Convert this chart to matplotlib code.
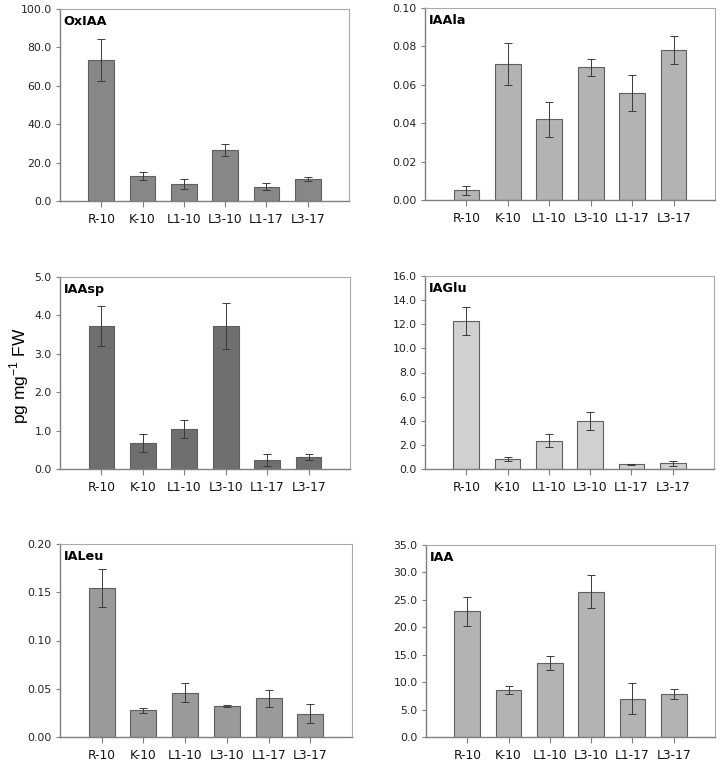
import matplotlib
matplotlib.use("Agg")
import matplotlib.pyplot as plt
from matplotlib.axes import Axes
from matplotlib.ticker import FormatStrFormatter, MultipleLocator

plt.rcParams["font.family"] = "DejaVu Sans"

LINES = ["R-10", "K-10", "L1-10", "L3-10", "L1-17", "L3-17"]

OXIAA = [73.4, 13.0, 8.9, 26.4, 7.5, 11.3]
OXIAA_ERR = [10.9, 2.2, 2.5, 3.1, 2.0, 1.1]

IAALA = [0.0050, 0.0707, 0.0420, 0.0691, 0.0556, 0.0780]
IAALA_ERR = [0.0022, 0.0110, 0.0090, 0.0043, 0.0093, 0.0072]

IAASP = [3.73, 0.68, 1.04, 3.72, 0.24, 0.31]
IAASP_ERR = [0.52, 0.24, 0.24, 0.59, 0.15, 0.08]

IAGLU = [12.24, 0.80, 2.35, 3.95, 0.39, 0.47]
IAGLU_ERR = [1.15, 0.17, 0.54, 0.75, 0.05, 0.18]

IALEU = [0.1542, 0.0277, 0.0461, 0.0326, 0.0399, 0.0243]
IALEU_ERR = [0.0198, 0.0025, 0.0094, 0.0010, 0.0084, 0.0097]

IAA = [22.9, 8.6, 13.5, 26.5, 7.0, 7.9]
IAA_ERR = [2.65, 0.73, 1.3, 2.95, 2.8, 0.9]

W, H = 720, 763


def px_axes(fig, left, right, top, bottom) -> Axes:
    return fig.add_axes([left / W, 1 - bottom / H, (right - left) / W, (bottom - top) / H])


def hormone_panel(axis: Axes, values, errors, title, color, ymax, step, fmt) -> Axes:
    xs = range(len(LINES))
    axis.bar(xs, values, width=0.62, color=color, edgecolor='#5f5f5f', linewidth=0.8, zorder=2)
    axis.errorbar(xs, values, yerr=errors, fmt='none', ecolor='#3a3a3a',
                  elinewidth=0.7, capsize=3, capthick=0.7, zorder=3)

    axis.set_xlim(-1.0, 6.0)
    axis.set_ylim(0, ymax)
    axis.yaxis.set_major_locator(MultipleLocator(step))
    axis.yaxis.set_major_formatter(FormatStrFormatter(fmt))
    axis.set_xticks(list(xs))
    axis.set_xticklabels(LINES)

    axis.tick_params(axis='y', labelsize=7.8, length=3, width=0.8, color='#7f7f7f', pad=3, labelcolor='#222222')
    axis.tick_params(axis='x', labelsize=8.8, length=4, width=0.8, color='#7f7f7f', pad=4.5, labelcolor='#111111')

    for side in ['left', 'bottom']:
        axis.spines[side].set_color('#7f7f7f')
        axis.spines[side].set_linewidth(1.0)
    for side in ['top', 'right']:
        axis.spines[side].set_color('#aaaaaa')
        axis.spines[side].set_linewidth(0.8)

    axis.text(0.012, 0.935, title, transform=axis.transAxes, fontsize=9.2,
              fontweight='bold', ha='left', va='center')
    return axis


fig = plt.figure(figsize=(W / 100, H / 100), dpi=100)

hormone_panel(px_axes(fig, 60, 349, 9, 201), OXIAA, OXIAA_ERR, "OxIAA", '#878787', 100, 20, '%.1f')
hormone_panel(px_axes(fig, 425, 715, 8, 200), IAALA, IAALA_ERR, "IAAla", '#b3b3b3', 0.10, 0.02, '%.2f')
hormone_panel(px_axes(fig, 60, 350, 277, 469), IAASP, IAASP_ERR, "IAAsp", '#6f6f6f', 5.0, 1.0, '%.1f')
hormone_panel(px_axes(fig, 425, 714, 276, 469), IAGLU, IAGLU_ERR, "IAGlu", '#d0d0d0', 16.0, 2.0, '%.1f')
hormone_panel(px_axes(fig, 60, 352, 544, 737), IALEU, IALEU_ERR, "IALeu", '#9a9a9a', 0.20, 0.05, '%.2f')
hormone_panel(px_axes(fig, 426, 715, 545, 737), IAA, IAA_ERR, "IAA", '#b3b3b3', 35.0, 5.0, '%.1f')

fig.text(19 / W, 1 - 376 / H, r"pg mg$^{\mathregular{-1}}$ FW", rotation=90, ha='center', va='center',
         fontsize=12.5, family='Liberation Sans')

fig.savefig("out.png", dpi=100)
